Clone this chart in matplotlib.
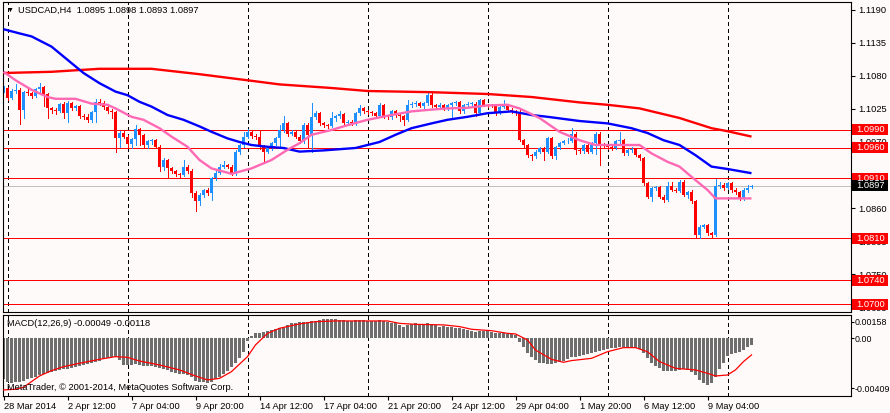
import numpy as np
import matplotlib
matplotlib.use('Agg')
import matplotlib.pyplot as plt
from matplotlib.patches import Rectangle
from matplotlib import transforms

plt.rcParams['font.family'] = ['Liberation Sans', 'DejaVu Sans']
plt.rcParams['font.size'] = 6.7

# ---- USDCAD H4 candles (bar 0 = 28 Mar 2014 20:00) ----
opens = [
    1.1056, 1.1060, 1.1044, 1.1055, 1.1057, 1.1023, 1.1053, 1.1051, 1.1047, 1.1058,
    1.1061, 1.1050, 1.1026, 1.1023, 1.1022, 1.1033, 1.1018, 1.1035, 1.1026, 1.1030,
    1.1014, 1.1012, 1.1007, 1.1020, 1.1037, 1.1035, 1.1028, 1.1022, 1.1020, 1.0976,
    1.0985, 1.0979, 1.0966, 1.0975, 1.0991, 1.0981, 1.0965, 1.0971, 1.0973, 1.0962,
    1.0928, 1.0940, 1.0926, 1.0922, 1.0916, 1.0915, 1.0929, 1.0922, 1.0885, 1.0871,
    1.0882, 1.0890, 1.0885, 1.0910, 1.0919, 1.0929, 1.0932, 1.0929, 1.0918, 1.0954,
    1.0965, 1.0979, 1.0987, 1.0980, 1.0978, 1.0962, 1.0954, 1.0960, 1.0968, 1.0976,
    1.0990, 1.1001, 1.0984, 1.0987, 1.0979, 1.0971, 1.0998, 1.0982, 1.1012, 1.1018,
    1.1001, 1.0998, 1.0997, 1.1010, 1.1013, 1.1017, 1.1002, 1.1004, 1.1001, 1.1018,
    1.1026, 1.1021, 1.1020, 1.1018, 1.1013, 1.1032, 1.1012, 1.1011, 1.1022, 1.1015,
    1.1013, 1.1007, 1.1032, 1.1033, 1.1035, 1.1030, 1.1035, 1.1048, 1.1032, 1.1029,
    1.1032, 1.1026, 1.1032, 1.1035, 1.1036, 1.1021, 1.1032, 1.1033, 1.1034, 1.1018,
    1.1040, 1.1032, 1.1031, 1.1030, 1.1018, 1.1029, 1.1032, 1.1023, 1.1022, 1.1018,
    1.0973, 1.0965, 1.0948, 1.0946, 1.0954, 1.0960, 1.0954, 1.0976, 1.0946, 1.0962,
    1.0968, 1.0971, 1.0972, 1.0984, 1.0957, 1.0955, 1.0965, 1.0954, 1.0968, 1.0984,
    1.0965, 1.0963, 1.0962, 1.0960, 1.0971, 1.0973, 1.0951, 1.0957, 1.0958, 1.0948,
    1.0943, 1.0901, 1.0879, 1.0893, 1.0895, 1.0879, 1.0873, 1.0896, 1.0890, 1.0889,
    1.0904, 1.0882, 1.0887, 1.0871, 1.0815, 1.0829, 1.0831, 1.0818, 1.0815, 1.0896,
    1.0898, 1.0893, 1.0901, 1.0890, 1.0887, 1.0876, 1.0890, 1.0895]
closes = [
    1.1060, 1.1044, 1.1055, 1.1057, 1.1023, 1.1053, 1.1051, 1.1047, 1.1058, 1.1061,
    1.1050, 1.1026, 1.1023, 1.1022, 1.1033, 1.1018, 1.1035, 1.1026, 1.1030, 1.1014,
    1.1012, 1.1007, 1.1020, 1.1037, 1.1035, 1.1028, 1.1022, 1.1020, 1.0976, 1.0985,
    1.0979, 1.0966, 1.0975, 1.0991, 1.0981, 1.0965, 1.0971, 1.0973, 1.0962, 1.0928,
    1.0940, 1.0926, 1.0922, 1.0916, 1.0915, 1.0929, 1.0922, 1.0885, 1.0871, 1.0882,
    1.0890, 1.0885, 1.0910, 1.0919, 1.0929, 1.0932, 1.0929, 1.0918, 1.0954, 1.0965,
    1.0979, 1.0987, 1.0980, 1.0978, 1.0962, 1.0954, 1.0960, 1.0968, 1.0976, 1.0990,
    1.1001, 1.0984, 1.0987, 1.0979, 1.0971, 1.0998, 1.0982, 1.1012, 1.1018, 1.1001,
    1.0998, 1.0997, 1.1010, 1.1013, 1.1017, 1.1002, 1.1004, 1.1001, 1.1018, 1.1026,
    1.1021, 1.1020, 1.1018, 1.1013, 1.1032, 1.1012, 1.1011, 1.1022, 1.1015, 1.1013,
    1.1007, 1.1032, 1.1033, 1.1035, 1.1030, 1.1035, 1.1048, 1.1032, 1.1029, 1.1032,
    1.1026, 1.1032, 1.1035, 1.1036, 1.1021, 1.1032, 1.1033, 1.1034, 1.1018, 1.1040,
    1.1032, 1.1031, 1.1030, 1.1018, 1.1029, 1.1032, 1.1023, 1.1022, 1.1018, 1.0973,
    1.0965, 1.0948, 1.0946, 1.0954, 1.0960, 1.0954, 1.0976, 1.0946, 1.0962, 1.0968,
    1.0971, 1.0972, 1.0984, 1.0957, 1.0955, 1.0965, 1.0954, 1.0968, 1.0984, 1.0965,
    1.0963, 1.0962, 1.0960, 1.0971, 1.0973, 1.0951, 1.0957, 1.0958, 1.0948, 1.0943,
    1.0901, 1.0879, 1.0893, 1.0895, 1.0879, 1.0873, 1.0896, 1.0890, 1.0889, 1.0904,
    1.0882, 1.0887, 1.0871, 1.0815, 1.0829, 1.0831, 1.0818, 1.0815, 1.0896, 1.0898,
    1.0893, 1.0901, 1.0890, 1.0887, 1.0876, 1.0890, 1.0893, 1.0897]
highs = [
    1.1064, 1.1062, 1.1058, 1.1066, 1.1060, 1.1055, 1.1058, 1.1054, 1.1060, 1.1068,
    1.1064, 1.1052, 1.1029, 1.1027, 1.1035, 1.1036, 1.1038, 1.1037, 1.1032, 1.1032,
    1.1017, 1.1016, 1.1022, 1.1041, 1.1041, 1.1038, 1.1030, 1.1025, 1.1022, 1.0988,
    1.0988, 1.0981, 1.0977, 1.0998, 1.0994, 1.0983, 1.0974, 1.0975, 1.0975, 1.0965,
    1.0943, 1.0942, 1.0929, 1.0924, 1.0919, 1.0940, 1.0931, 1.0925, 1.0888, 1.0885,
    1.0892, 1.0893, 1.0912, 1.0921, 1.0934, 1.0939, 1.0934, 1.0931, 1.0956, 1.0967,
    1.0987, 1.0991, 1.0989, 1.0983, 1.0990, 1.0965, 1.0962, 1.0970, 1.0978, 1.0998,
    1.1013, 1.1003, 1.0990, 1.0989, 1.0981, 1.1002, 1.1002, 1.1035, 1.1021, 1.1020,
    1.1004, 1.1000, 1.1020, 1.1015, 1.1021, 1.1018, 1.1007, 1.1006, 1.1020, 1.1031,
    1.1028, 1.1024, 1.1022, 1.1020, 1.1035, 1.1033, 1.1015, 1.1024, 1.1024, 1.1017,
    1.1015, 1.1040, 1.1036, 1.1038, 1.1037, 1.1037, 1.1051, 1.1051, 1.1034, 1.1035,
    1.1034, 1.1034, 1.1037, 1.1039, 1.1038, 1.1034, 1.1036, 1.1036, 1.1036, 1.1042,
    1.1042, 1.1034, 1.1033, 1.1032, 1.1031, 1.1040, 1.1034, 1.1026, 1.1024, 1.1023,
    1.0975, 1.0967, 1.0950, 1.0957, 1.0962, 1.0962, 1.0979, 1.0978, 1.0964, 1.0970,
    1.0973, 1.0976, 1.0993, 1.0986, 1.0960, 1.0967, 1.0967, 1.0970, 1.0987, 1.0986,
    1.0968, 1.0966, 1.0964, 1.0973, 1.0987, 1.0975, 1.0959, 1.0962, 1.0960, 1.0950,
    1.0945, 1.0903, 1.0895, 1.0897, 1.0897, 1.0881, 1.0904, 1.0904, 1.0893, 1.0906,
    1.0906, 1.0889, 1.0890, 1.0873, 1.0831, 1.0834, 1.0833, 1.0820, 1.0909, 1.0903,
    1.0901, 1.0904, 1.0903, 1.0893, 1.0889, 1.0893, 1.0898, 1.0898]
lows = [
    1.1054, 1.1040, 1.1042, 1.1052, 1.1000, 1.1010, 1.1048, 1.1043, 1.1045, 1.1052,
    1.1030, 1.1010, 1.1018, 1.1017, 1.1020, 1.1010, 1.1004, 1.1023, 1.1024, 1.1010,
    1.1009, 1.1003, 1.1004, 1.1004, 1.1032, 1.1025, 1.1018, 1.1010, 1.0954, 1.0961,
    1.0976, 1.0962, 1.0960, 1.0965, 1.0965, 1.0962, 1.0960, 1.0966, 1.0960, 1.0921,
    1.0923, 1.0910, 1.0918, 1.0913, 1.0910, 1.0913, 1.0919, 1.0878, 1.0855, 1.0865,
    1.0879, 1.0882, 1.0873, 1.0907, 1.0916, 1.0927, 1.0926, 1.0915, 1.0915, 1.0950,
    1.0962, 1.0976, 1.0977, 1.0975, 1.0958, 1.0937, 1.0951, 1.0957, 1.0965, 1.0962,
    1.0987, 1.0980, 1.0981, 1.0976, 1.0968, 1.0969, 1.0960, 1.0954, 1.1008, 1.0998,
    1.0995, 1.0994, 1.0995, 1.1005, 1.1010, 1.0999, 1.0998, 1.0998, 1.0999, 1.1015,
    1.1019, 1.1017, 1.1015, 1.1010, 1.1011, 1.1010, 1.1008, 1.1009, 1.1012, 1.1005,
    1.0998, 1.1005, 1.1028, 1.1030, 1.1028, 1.1027, 1.1032, 1.1029, 1.1026, 1.1026,
    1.1024, 1.1024, 1.1012, 1.1032, 1.1019, 1.1019, 1.1030, 1.1031, 1.1013, 1.1016,
    1.1030, 1.1029, 1.1028, 1.1015, 1.1016, 1.1027, 1.1021, 1.1019, 1.1015, 1.0971,
    1.0962, 1.0945, 1.0940, 1.0944, 1.0951, 1.0940, 1.0952, 1.0944, 1.0942, 1.0959,
    1.0966, 1.0969, 1.0970, 1.0950, 1.0952, 1.0952, 1.0951, 1.0952, 1.0950, 1.0932,
    1.0960, 1.0959, 1.0957, 1.0958, 1.0968, 1.0948, 1.0949, 1.0954, 1.0946, 1.0940,
    1.0898, 1.0876, 1.0871, 1.0890, 1.0876, 1.0870, 1.0871, 1.0888, 1.0886, 1.0887,
    1.0880, 1.0876, 1.0868, 1.0811, 1.0810, 1.0826, 1.0815, 1.0812, 1.0813, 1.0893,
    1.0890, 1.0891, 1.0887, 1.0884, 1.0873, 1.0874, 1.0887, 1.0893]

# moving averages (bar index, price)
blue_idx = [0, 4, 7, 12, 16, 20, 24, 28, 31, 34, 37, 41, 45, 49, 52, 56, 59, 62, 66, 70,
            74, 80, 88, 94, 98, 102, 107, 111, 116, 121, 127, 132, 136, 144, 151, 157,
            161, 165, 169, 173, 177, 181, 187]
blue_val = [1.1158, 1.1151, 1.1146, 1.1129, 1.1107, 1.1085, 1.1068, 1.1054, 1.1048, 1.1037,
            1.1029, 1.1015, 1.1007, 1.0996, 1.0987, 1.0976, 1.0970, 1.0965, 1.0962, 1.0960,
            1.0954, 1.0956, 1.0960, 1.0970, 1.0982, 1.0993, 1.1001, 1.1007, 1.1012, 1.1018,
            1.1021, 1.1015, 1.1012, 1.1005, 1.1001, 1.0993, 1.0985, 1.0973, 1.0965, 1.0948,
            1.0929, 1.0925, 1.0918]
red_idx = [0, 12, 24, 32, 37, 49, 62, 69, 82, 91, 107, 121, 132, 144, 151, 159, 169, 177, 181, 187]
red_val = [1.1085, 1.1087, 1.1092, 1.1092, 1.1092, 1.1083, 1.1072, 1.1066, 1.1060, 1.1055,
           1.1053, 1.1050, 1.1045, 1.1036, 1.1032, 1.1026, 1.1010, 1.0993, 1.0988, 1.0979]
pink_idx = [0, 3, 7, 11, 13, 18, 22, 26, 28, 32, 35, 39, 42, 46, 49, 52, 57, 62, 67, 71,
            74, 77, 82, 86, 91, 97, 102, 107, 111, 116, 121, 126, 129, 134, 139, 144, 148,
            159, 162, 166, 169, 172, 176, 178, 187]
pink_val = [1.1087, 1.1073, 1.1057, 1.1045, 1.1042, 1.1042, 1.1034, 1.1032, 1.1026, 1.1012,
            1.1007, 1.0993, 1.0979, 1.0962, 1.0940, 1.0926, 1.0917, 1.0926, 1.0940, 1.0957,
            1.0968, 1.0982, 1.0990, 1.0998, 1.1007, 1.1015, 1.1021, 1.1024, 1.1026, 1.1027,
            1.1031, 1.1032, 1.1026, 1.1010, 1.0987, 1.0973, 1.0965, 1.0965, 1.0951, 1.0937,
            1.0929, 1.0912, 1.0890, 1.0876, 1.0876]

levels = [1.0990, 1.0960, 1.0910, 1.0810, 1.0740, 1.0700]
last_price = 1.0897
price_ticks = [1.1190, 1.1135, 1.1080, 1.1025, 1.0970, 1.0915, 1.0860, 1.0805, 1.0750, 1.0695]

# MACD(12,26,9)
macd_hist = [
    -0.00291, -0.00307, -0.00314, -0.00312, -0.00307, -0.00300, -0.00291, -0.00281, -0.00272, -0.00262,
    -0.00253, -0.00243, -0.00236, -0.00229, -0.00224, -0.00220, -0.00215, -0.00210, -0.00201, -0.00194,
    -0.00187, -0.00182, -0.00177, -0.00168, -0.00158, -0.00149, -0.00142, -0.00135, -0.00130, -0.00154,
    -0.00189, -0.00189, -0.00189, -0.00184, -0.00189, -0.00194, -0.00196, -0.00196, -0.00201, -0.00213,
    -0.00217, -0.00224, -0.00236, -0.00243, -0.00253, -0.00253, -0.00260, -0.00276, -0.00300, -0.00307,
    -0.00312, -0.00314, -0.00307, -0.00291, -0.00272, -0.00253, -0.00229, -0.00201, -0.00177, -0.00142,
    -0.00095, -0.00017, 0.00017, 0.00035, 0.00040, 0.00047, 0.00054, 0.00059, 0.00064, 0.00071,
    0.00078, 0.00095, 0.00106, 0.00111, 0.00116, 0.00118, 0.00113, 0.00121, 0.00125, 0.00130,
    0.00135, 0.00135, 0.00137, 0.00135, 0.00130, 0.00130, 0.00125, 0.00125, 0.00130, 0.00130,
    0.00130, 0.00125, 0.00125, 0.00123, 0.00128, 0.00121, 0.00118, 0.00111, 0.00106, 0.00095,
    0.00083, 0.00092, 0.00102, 0.00106, 0.00102, 0.00102, 0.00106, 0.00102, 0.00095, 0.00083,
    0.00087, 0.00083, 0.00078, 0.00073, 0.00071, 0.00064, 0.00059, 0.00054, 0.00047, 0.00054,
    0.00054, 0.00050, 0.00045, 0.00040, 0.00035, 0.00035, 0.00031, 0.00028, 0.00024, -0.00024,
    -0.00064, -0.00102, -0.00130, -0.00154, -0.00172, -0.00177, -0.00182, -0.00182, -0.00177, -0.00168,
    -0.00158, -0.00149, -0.00135, -0.00130, -0.00125, -0.00121, -0.00113, -0.00106, -0.00095, -0.00090,
    -0.00083, -0.00076, -0.00071, -0.00066, -0.00061, -0.00059, -0.00059, -0.00061, -0.00066, -0.00078,
    -0.00106, -0.00142, -0.00172, -0.00196, -0.00213, -0.00229, -0.00234, -0.00232, -0.00229, -0.00224,
    -0.00220, -0.00224, -0.00236, -0.00260, -0.00295, -0.00314, -0.00331, -0.00319, -0.00272, -0.00220,
    -0.00172, -0.00125, -0.00111, -0.00102, -0.00095, -0.00083, -0.00064, -0.00049]
sig_idx = [0, 3, 5, 7, 9, 12, 15, 19, 24, 28, 31, 34, 39, 44, 48, 51, 54, 57, 61, 63,
           66, 69, 74, 78, 83, 92, 96, 99, 103, 110, 114, 117, 122, 126, 128, 131, 133, 137,
           140, 142, 147, 151, 155, 158, 161, 164, 168, 173, 176, 178, 181, 183, 185, 187]
sig_val = [-0.00366, -0.00361, -0.00347, -0.00307, -0.00267, -0.00229, -0.00201, -0.00177, -0.00149, -0.00130,
           -0.00135, -0.00161, -0.00189, -0.00224, -0.00267, -0.00295, -0.00284, -0.00236, -0.00130, -0.00047,
           0.00035, 0.00071, 0.00102, 0.00118, 0.00123, 0.00123, 0.00123, 0.00106, 0.00099, 0.00095,
           0.00083, 0.00064, 0.00054, 0.00035, 0.00031, -0.00012, -0.00083, -0.00149, -0.00170, -0.00158,
           -0.00142, -0.00095, -0.00066, -0.00066, -0.00095, -0.00165, -0.00213, -0.00224, -0.00248, -0.00267,
           -0.00260, -0.00224, -0.00165, -0.00118]

time_idx = [0, 16, 32, 48, 64, 80, 96, 112, 128, 144, 160, 176]
time_labels = ['28 Mar 2014', '2 Apr 12:00', '7 Apr 04:00', '9 Apr 20:00', '14 Apr 12:00',
               '17 Apr 04:00', '21 Apr 20:00', '24 Apr 12:00', '29 Apr 04:00', '1 May 20:00',
               '6 May 12:00', '9 May 04:00']
grid_idx = [1, 31, 61, 91, 121, 151, 181]

# ---- layout ----
BG = '#FFFAFA'
W, H = 890, 413
BULL, BEAR = '#1E90FF', '#FF0000'
PX = 0.72  # one pixel in points at 100 dpi

fig = plt.figure(figsize=(W / 100, H / 100), dpi=100, facecolor=BG)


def fx(px):
    return px / W


def fy(py):
    return 1 - py / H


ax = fig.add_axes([fx(2.5), fy(312), fx(848), 310 / H], facecolor=BG)
ax2 = fig.add_axes([fx(2.5), fy(395.5), fx(848), 81 / H], facecolor=BG)

x = np.arange(len(closes))
o = np.array(opens)
c = np.array(closes)
cols = [BULL if cc >= oo else BEAR for oo, cc in zip(o, c)]

# candles
ax.vlines(x, lows, highs, colors=cols, lw=PX, antialiased=False, zorder=2)
body_lo = np.minimum(o, c)
body_h = np.maximum(np.abs(c - o), 0.00012)
ax.bar(x, body_h, bottom=body_lo, width=0.75, color=cols, lw=0, antialiased=False, zorder=2.1)

# moving averages
ax.plot(red_idx, red_val, color='#FF0000', lw=1.7, zorder=3, solid_capstyle='butt')
ax.plot(blue_idx, blue_val, color='#0000FF', lw=1.7, zorder=3, solid_capstyle='butt')
ax.plot(pink_idx, pink_val, color='#FF69B4', lw=1.7, zorder=3.1, solid_capstyle='butt')

# horizontal levels and current price
for lv in levels:
    ax.axhline(lv, color='#FF0000', lw=PX, antialiased=False, zorder=1.5)
ax.axhline(last_price, color='#C0C0C0', lw=PX, antialiased=False, zorder=1.4)

for axx in (ax, ax2):
    for g in grid_idx:
        axx.axvline(g, color='black', lw=PX, ls=(0, (3, 3)), antialiased=False, zorder=1)
    for sp in axx.spines.values():
        sp.set_color('black')
        sp.set_linewidth(0.8)
    axx.set_xlim(-0.25, 211.75)

ax.set_ylim(1.068667, 1.120333)
ax.set_yticks(price_ticks)
ax.set_yticklabels([f'{t:.4f}' for t in price_ticks])
ax.tick_params(axis='y', left=False, labelleft=False, right=True, labelright=True,
               length=3, width=0.8, pad=2.5, labelsize=6.7)
ax.tick_params(axis='x', bottom=False, labelbottom=False)

# level labels on the price scale
blend = transforms.blended_transform_factory(fig.transFigure, ax.transData)
box_h = 11 / 6000
for lv in levels + [last_price]:
    fc = '#000000' if lv == last_price else '#FF0000'
    ax.add_patch(Rectangle((fx(852), lv - box_h / 2), fx(36), box_h, transform=blend,
                           facecolor=fc, edgecolor='none', clip_on=False, zorder=10))
    ax.text(fx(856.5), lv, f'{lv:.4f}', transform=blend, color='white', va='center',
            ha='left', fontsize=6.7, clip_on=False, zorder=11)

# MACD panel
ax2.bar(x, macd_hist, width=0.67, color='#6E6E6E', lw=0, antialiased=False, zorder=2)
ax2.plot(sig_idx, sig_val, color='#FF0000', lw=0.9, zorder=3)
ax2.set_ylim(-0.004054, 0.001687)
ax2.set_yticks([0.001177, 0.0, -0.003544])
ax2.set_yticklabels(['0.00158', '0.00', '-0.00409'])
ax2.tick_params(axis='y', left=False, labelleft=False, right=True, labelright=True,
                length=2, width=0.8, pad=1.0, labelsize=6.4)
ax2.set_xticks(time_idx)
ax2.set_xticklabels(time_labels)
ax2.tick_params(axis='x', length=3, width=0.8, pad=1.5, labelsize=6.7)
for lbl in ax2.get_xticklabels():
    lbl.set_horizontalalignment('left')

# captions
fig.text(fx(7), fy(10.5), '\u25bc', fontsize=5, va='center', ha='left')
fig.text(fx(18), fy(10.5), 'USDCAD,H4  1.0895 1.0898 1.0893 1.0897', va='center', ha='left')
fig.text(fx(7), fy(323.3), 'MACD(12,26,9) -0.00049 -0.00118', va='center', ha='left')
fig.text(fx(7), fy(387.5), 'MetaTrader, \u00a9 2001-2014, MetaQuotes Software Corp.',
         va='center', ha='left')

fig.savefig('out.png', dpi=100, facecolor=BG)
